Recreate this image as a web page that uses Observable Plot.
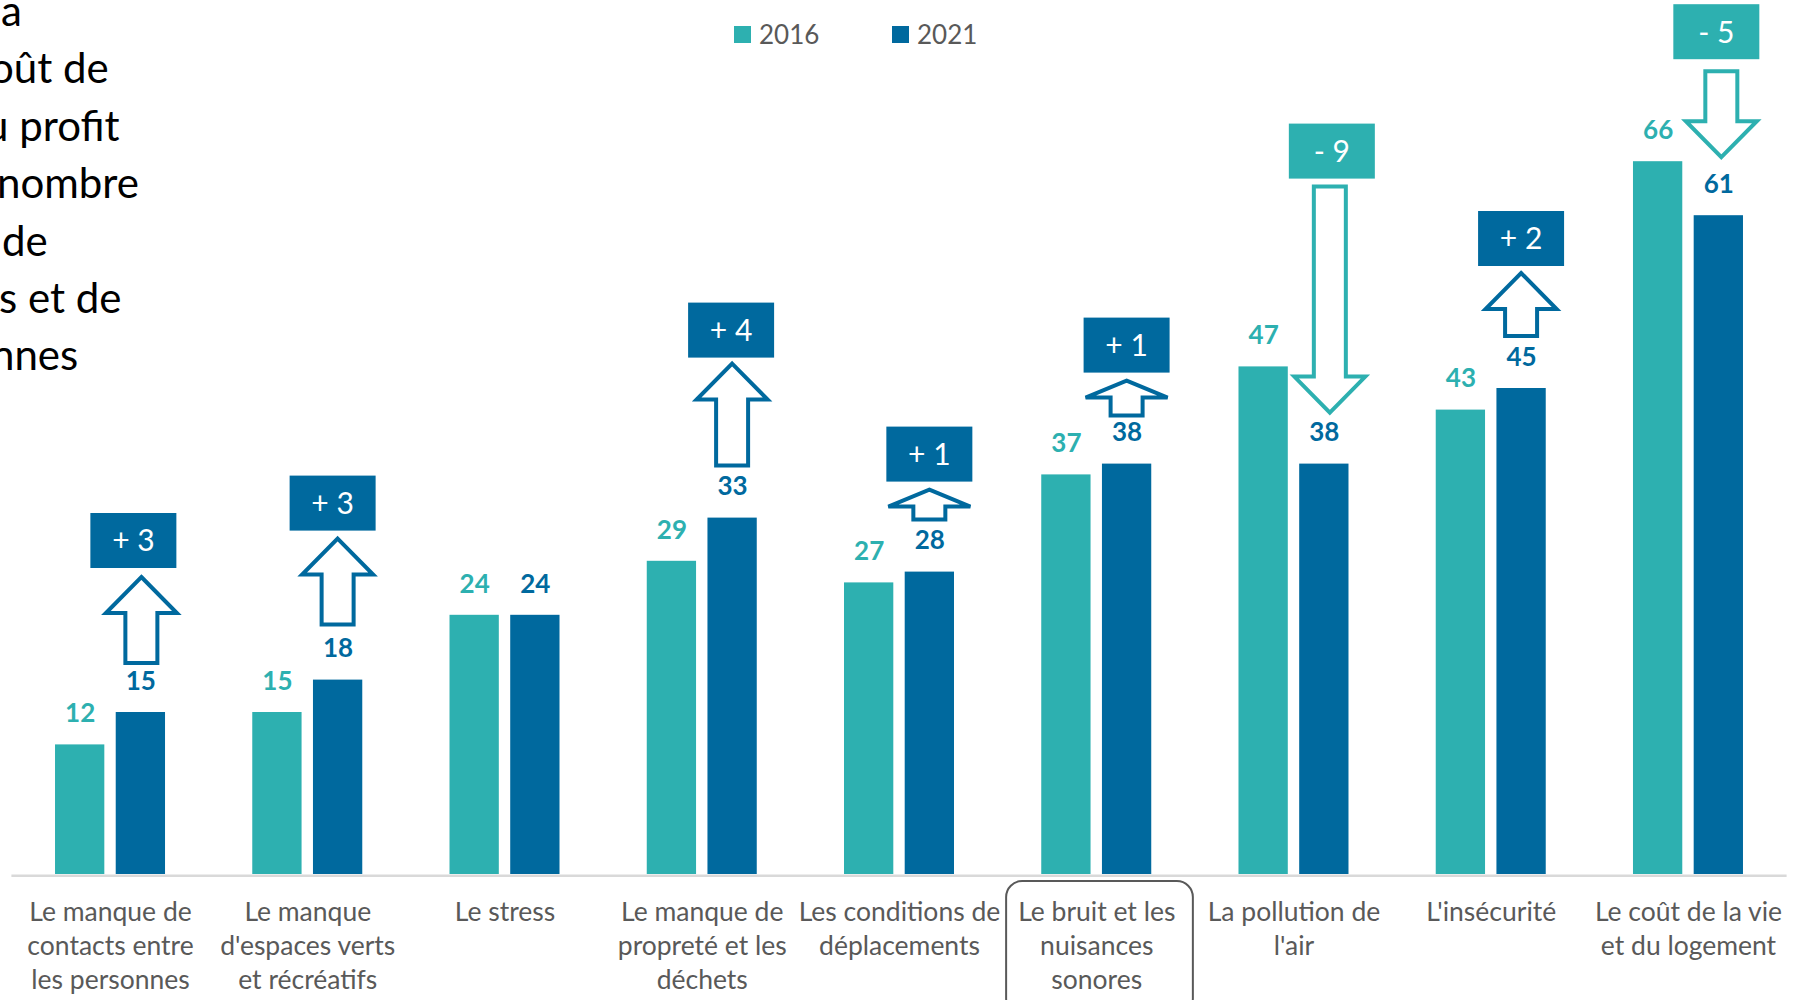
<!DOCTYPE html>
<html>
<head>
<meta charset="utf-8">
<script src="https://cdn.jsdelivr.net/npm/d3@7"></script>
<script src="https://cdn.jsdelivr.net/npm/@observablehq/plot@0.6"></script>
<style>
  html, body { margin: 0; padding: 0; background: #fff; overflow: hidden; }
  body { width: 1798px; height: 1000px; position: relative; font-family: Lato, "Open Sans", sans-serif; }
  #chart { position: absolute; left: 0; top: 0; }
  #title { position: absolute; left: 0; top: -18px; font-size: 42px; line-height: 57.4px; color: #000; white-space: nowrap; }
  #title div { white-space: nowrap; }
  .sw { position: absolute; top: 26px; width: 17px; height: 17px; }
  .lg { position: absolute; top: 21px; font-size: 26px; line-height: 26px; color: #595959; }
</style>
</head>
<body>
<div id="chart"></div>
<div id="title"></div>
<div id="legend"></div>
<script>
// ---------- data ----------
const categories = [
  "Le manque de\ncontacts entre\nles personnes",
  "Le manque\nd'espaces verts\net récréatifs",
  "Le stress",
  "Le manque de\npropreté et les\ndéchets",
  "Les conditions de\ndéplacements",
  "Le bruit et les\nnuisances\nsonores",
  "La pollution de\nl'air",
  "L'insécurité",
  "Le coût de la vie\net du logement"
];
const values2016 = [12, 15, 24, 29, 27, 37, 47, 43, 66];
const values2021 = [15, 18, 24, 33, 28, 38, 38, 45, 61];
const years = ["2016", "2021"];
const highlighted = "Le bruit et les\nnuisances\nsonores";
const titleLines = ["a", "oût de", "u profit", "nombre", "de", "s et de", "nnes"];

// ---------- layout / style (annotation geometry, px) ----------
const C2016 = "#2DB0B0", C2021 = "#00699E", GREY = "#595959";
const W = 1798, H = 1000, ML = 11.4, MR = 11.4, MT = 10, MB = 126;
const BW = (W - ML - MR) / categories.length;
const BAR_W = 49.3, BAR_GAP = 11.4;
const OFF = BAR_GAP / 2 + BAR_W / 2;        // bar-centre offset from group centre
const arrowGap = [49, 55, 0, 52, 52, 48, 51, 52, 58];
const arrowLen = [86, 86, 0, 102, 30, 35, 226, 63, 86];
const boxGap   = [9, 8, 0, 6, 8, 8, 8, 7, 12];
const boxDx    = [-7, -5, 0, -1, 0, 0, 8, 0, -2];
const arrowDx  = [1, 0, 0, 0, 0, 0, 6, 0, 3];
const titleShift = [1, -10, -15, -3, 2, -1, -9];

const rows = categories.map((cat, i) => ({cat, v2016: values2016[i], v2021: values2021[i], i}));

// ---------- annotation mark (function mark using Plot's scales) ----------
function annotationMark(index, scales) {
  const x = scales.x, y = scales.y;
  const bw = x.bandwidth ? x.bandwidth() : BW;
  const g = d3.create("svg:g");
  rows.forEach((r) => {
    const i = r.i;
    const d = r.v2021 - r.v2016;
    if (d === 0) return;
    const color = d > 0 ? C2021 : C2016;
    const cx = x(r.cat) + bw / 2 + OFF + arrowDx[i];
    const bx = x(r.cat) + bw / 2 + OFF + boxDx[i];
    const len = arrowLen[i];
    const short = len < 50;
    const headW = short ? 82 : 71, headH = short ? 17 : 36, shaftW = 32;
    let pts, boxBottom;
    if (d > 0) {
      const yb = y(r.v2021) - arrowGap[i];
      const yt = yb - len;
      pts = [[cx, yt], [cx + headW / 2, yt + headH], [cx + shaftW / 2, yt + headH], [cx + shaftW / 2, yb],
             [cx - shaftW / 2, yb], [cx - shaftW / 2, yt + headH], [cx - headW / 2, yt + headH]];
      boxBottom = yt - boxGap[i];
    } else {
      const yt = y(r.v2021) - arrowGap[i];   // tip
      const ys = yt - len;                   // shaft top
      pts = [[cx, yt], [cx + headW / 2, yt - headH], [cx + shaftW / 2, yt - headH], [cx + shaftW / 2, ys],
             [cx - shaftW / 2, ys], [cx - shaftW / 2, yt - headH], [cx - headW / 2, yt - headH]];
      boxBottom = ys - boxGap[i];
    }
    g.append("path")
      .attr("d", d3.line()(pts) + "Z")
      .attr("fill", "#fff").attr("stroke", color).attr("stroke-width", 4)
      .attr("stroke-linejoin", "miter");
    const bwid = 86, bh = 55;
    g.append("rect")
      .attr("x", bx - bwid / 2).attr("y", boxBottom - bh)
      .attr("width", bwid).attr("height", bh).attr("fill", color);
    g.append("text")
      .attr("x", bx).attr("y", boxBottom - bh / 2)
      .attr("dy", "0.36em").attr("text-anchor", "middle")
      .attr("fill", "#fff").attr("font-size", 30)
      .text((d > 0 ? "+ " : "- ") + Math.abs(d));
  });
  return g.node();
}

const plot = Plot.plot({
  width: W, height: H,
  marginLeft: ML, marginRight: MR, marginTop: MT, marginBottom: MB,
  style: {fontFamily: "Lato, 'Open Sans', sans-serif", background: "transparent", overflow: "visible"},
  x: {domain: categories, padding: 0, round: false, axis: null},
  y: {domain: [0, 80], axis: null},
  marks: [
    Plot.ruleY([0], {stroke: "#D9D9D9", strokeWidth: 2.5, dy: 1.2}),
    Plot.barY(rows, {x: "cat", y: "v2016", fill: C2016,
      insetLeft: BW / 2 - BAR_GAP / 2 - BAR_W, insetRight: BW / 2 + BAR_GAP / 2}),
    Plot.barY(rows, {x: "cat", y: "v2021", fill: C2021,
      insetLeft: BW / 2 + BAR_GAP / 2, insetRight: BW / 2 - BAR_GAP / 2 - BAR_W}),
    Plot.text(rows, {x: "cat", y: "v2016", text: d => String(d.v2016), dx: -OFF, dy: -31,
      fill: C2016, fontWeight: "bold", fontSize: 26}),
    Plot.text(rows, {x: "cat", y: "v2021", text: d => String(d.v2021), dx: OFF, dy: -31,
      fill: C2021, fontWeight: "bold", fontSize: 26}),
    Plot.text(rows, {x: "cat", y: () => 0, text: "cat", dy: 23, lineAnchor: "top",
      lineHeight: 1.27, fill: GREY, fontSize: 26.5}),
    Plot.barY([highlighted], {x: d => d, y1: () => -0.65, y2: () => -13, fill: "none",
      stroke: GREY, strokeWidth: 2, rx: 16, insetLeft: 8.5, insetRight: 2}),
    annotationMark
  ]
});
document.getElementById("chart").appendChild(plot);

// ---------- title fragment (cut at the left edge, as in the source slide) ----------
const t = document.getElementById("title");
titleLines.forEach((s, i) => {
  const div = document.createElement("div");
  div.textContent = s;
  div.style.marginLeft = titleShift[i] + "px";
  t.appendChild(div);
});

// ---------- legend ----------
const lg = document.getElementById("legend");
const legendX = [[734, 759], [892, 917]];
years.forEach((yr, i) => {
  const sw = document.createElement("div");
  sw.className = "sw"; sw.style.left = legendX[i][0] + "px";
  sw.style.background = i === 0 ? C2016 : C2021;
  const tx = document.createElement("div");
  tx.className = "lg"; tx.style.left = legendX[i][1] + "px"; tx.textContent = yr;
  lg.appendChild(sw); lg.appendChild(tx);
});
</script>
</body>
</html>
